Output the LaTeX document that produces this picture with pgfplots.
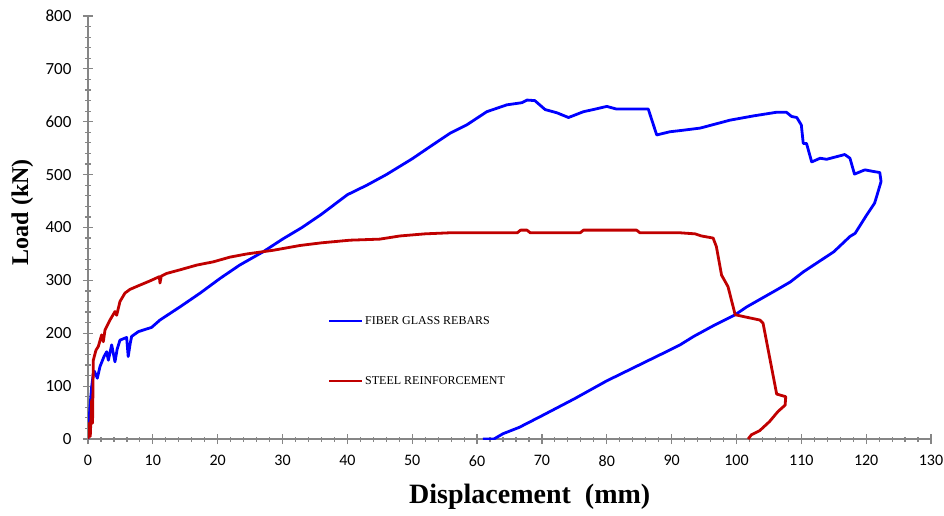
\documentclass[border=0pt]{standalone}
\usepackage{pgfplots}
\pgfplotsset{compat=1.18}
\usepackage{fontspec}
\setmainfont{Liberation Serif}
\newfontfamily\tickfont{Carlito}
\definecolor{axisgray}{RGB}{134,134,134}
\definecolor{fgblue}{RGB}{0,0,255}
\definecolor{stred}{RGB}{192,0,0}
\begin{document}
\begin{tikzpicture}
\begin{axis}[
  scale only axis,
  width=843pt, height=423pt,
  xmin=0, xmax=130, ymin=0, ymax=800,
  axis lines=left,
  axis line style={-, draw=axisgray, line width=1.5pt},
  xtick={0,10,...,130}, ytick={0,100,...,800},
  minor x tick num=4, minor y tick num=4,
  tick align=center,
  major tick length=10pt, minor tick length=5pt,
  tick style={draw=axisgray, line width=1.2pt},
  /pgf/number format/assume math mode=true,
  xticklabel style={font=\tickfont\fontsize{16}{16}\selectfont, yshift=-8pt},
  yticklabel style={font=\tickfont\fontsize{17}{17}\selectfont, xshift=-8pt},
  xlabel={Displacement\ \ (mm)},
  ylabel={Load (kN)},
  xlabel style={font=\bfseries\fontsize{28}{28}\selectfont, at={(axis description cs:0.524,-0.137)}, anchor=center},
  ylabel style={font=\bfseries\fontsize{24}{24}\selectfont, at={(axis description cs:-0.078,0.536)}, anchor=center},
  legend style={draw=none, fill=none, at={(axis description cs:0.2847,0.2955)}, anchor=north west,
    font=\fontsize{12}{12}\selectfont, row sep=47pt, inner sep=0pt,
    nodes={inner sep=2pt}},
  legend cell align=left,
  legend image code/.code={\draw[#1, line width=2pt] (0pt,0pt) -- (33pt,0pt);},
]
\addplot[fgblue, line width=2.8pt, line join=round] coordinates {
(0,0) (0.3,61) (0.57,99) (0.82,124) (1.0,128) (1.44,115) (1.85,137) (2.47,156) (2.88,165) (3.14,149) (3.65,178) (4.16,146) (4.5,170) (4.93,187) (5.96,192) (6.2,156) (6.5,180) (6.73,194) (7.76,203) (8.5,206) (9.8,211) (11.1,225) (14.2,250) (17.3,276) (20.4,304) (23.4,329) (27.0,354) (30,378) (33,400) (36,425) (40,462) (43,480) (46,500) (50,530) (53,555) (55.8,578) (58.4,594) (61.5,619) (64.6,632) (66.9,636) (67.7,641) (68.9,640) (70.5,623) (72.3,617) (74.1,608) (76.4,619) (77.9,623) (80.0,629) (81.5,624) (86.4,624) (87.7,575) (89.7,581) (91.8,584) (94.4,588) (99.0,603) (102.6,611) (106.2,618) (107.7,618) (108.5,610) (109.3,608) (110.0,594) (110.3,559) (110.8,559) (111.6,524) (112.9,531) (113.9,529) (116.7,538) (117.5,531) (118.2,501) (119.8,509) (121.1,506) (122.1,504) (122.3,487) (121.6,458) (121.3,446) (120.1,424) (118.3,389) (117.5,383) (115.0,354) (112.9,337) (110.3,316) (108.3,297) (106.2,282) (103.9,266) (101.6,250) (99.8,235) (96.4,214) (93.4,194) (91.3,178) (90,170) (85,140) (80,110) (75,76) (70,44) (66.5,22) (64,10) (62.6,0) (60.9,0)
};
\addlegendentry{FIBER GLASS REBARS}
\addplot[stred, line width=2.8pt, line join=round] coordinates {
(0,0) (0.2,30) (0.35,5) (0.57,74) (0.7,30) (0.82,149) (1.23,168) (1.59,175) (2.1,197) (2.36,184) (2.62,206) (3.39,225) (4.16,241) (4.42,234) (4.93,260) (5.7,276) (6.48,283) (8.0,291) (9.56,299) (11.0,307) (11.1,295) (11.3,308) (12.1,313) (14.2,320) (16.8,329) (19.3,335) (21.9,344) (24.5,350) (28.6,357) (32.7,366) (36,371) (40.4,376) (45,378) (48.1,384) (52,388) (55.8,390) (66.2,390) (66.7,395) (67.7,395) (68.2,390) (75.9,390) (76.4,395) (84.6,395) (85.1,390) (91.3,390) (93.6,388) (94.6,384) (96.4,380) (96.9,364) (97.7,310) (98.7,288) (99.8,235) (101.3,231) (103.6,225) (104.1,219) (106.2,85) (107.6,80) (107.5,64) (106.4,52) (105.1,33) (103.6,16) (102.3,8) (101.8,0)
};
\addlegendentry{STEEL REINFORCEMENT}
\end{axis}
\pgfresetboundingbox
\path[use as bounding box] ([shift={(-88pt,-77pt)}]current axis.south west) rectangle ([shift={(13pt,16pt)}]current axis.north east);
\end{tikzpicture}
\end{document}
